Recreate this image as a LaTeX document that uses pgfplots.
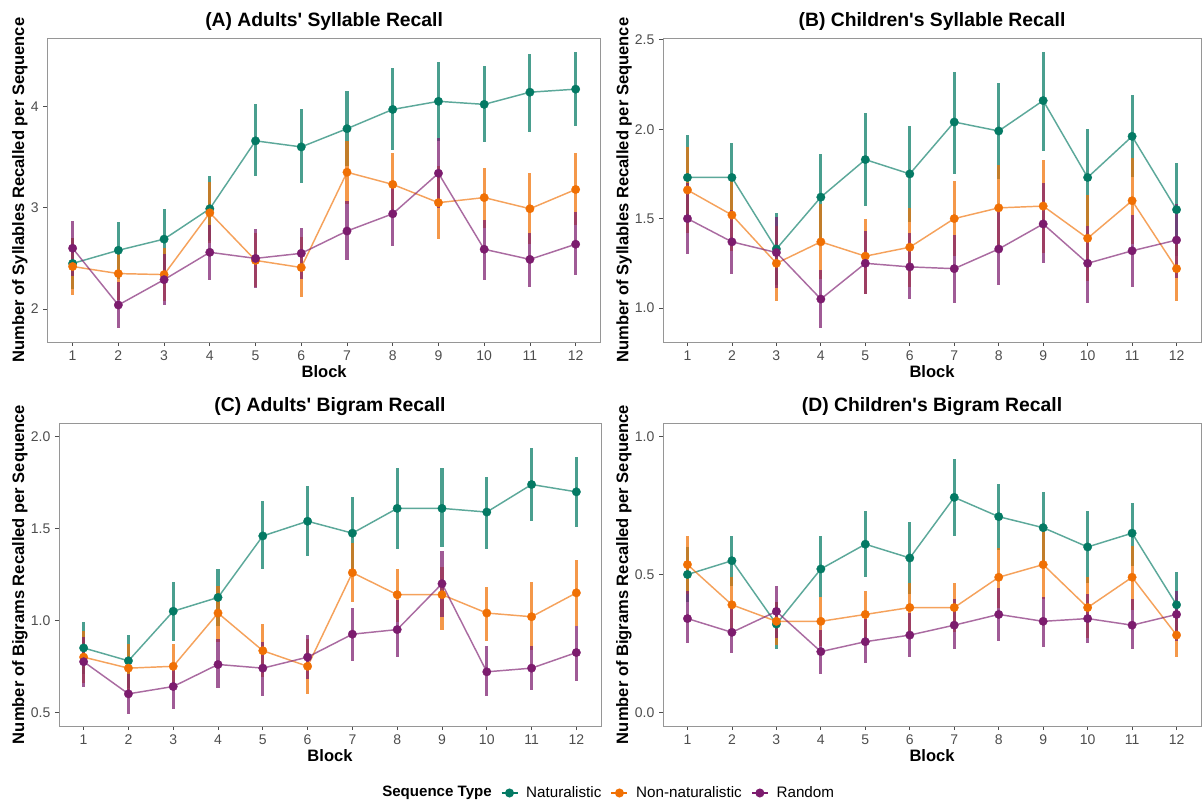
\documentclass[border=0pt]{standalone}
\usepackage{fontspec}
\setmainfont{Liberation Sans}
\usepackage{pgfplots}
\usepackage{pgfplotstable}
\pgfplotsset{compat=1.18}

\definecolor{natc}{RGB}{4,122,100}
\definecolor{nonc}{RGB}{240,112,4}
\definecolor{ranc}{RGB}{124,28,110}
\definecolor{framec}{RGB}{150,150,150}
\definecolor{tickc}{RGB}{77,77,77}

% x = block, y = mean, lo/hi = ends of the error bar
\pgfplotstableread{
x y lo hi
1 2.45 2.20 2.70
2 2.58 2.30 2.86
3 2.69 2.39 2.99
4 2.99 2.67 3.31
5 3.66 3.31 4.02
6 3.60 3.24 3.97
7 3.78 3.41 4.15
8 3.97 3.57 4.38
9 4.05 3.66 4.44
10 4.02 3.65 4.40
11 4.14 3.75 4.52
12 4.17 3.81 4.54
}\AN
\pgfplotstableread{
x y lo hi
1 2.42 2.14 2.70
2 2.35 2.09 2.61
3 2.34 2.08 2.60
4 2.95 2.65 3.25
5 2.48 2.22 2.75
6 2.41 2.12 2.71
7 3.35 3.04 3.66
8 3.23 2.92 3.54
9 3.05 2.69 3.41
10 3.10 2.80 3.39
11 2.99 2.64 3.34
12 3.18 2.83 3.54
}\AO
\pgfplotstableread{
x y lo hi
1 2.60 2.33 2.87
2 2.04 1.81 2.27
3 2.29 2.04 2.54
4 2.56 2.29 2.83
5 2.50 2.21 2.79
6 2.55 2.30 2.80
7 2.77 2.48 3.07
8 2.94 2.62 3.26
9 3.34 3.00 3.69
10 2.59 2.29 2.88
11 2.49 2.22 2.75
12 2.64 2.34 2.96
}\AR
\pgfplotstableread{
x y lo hi
1 1.73 1.49 1.97
2 1.73 1.54 1.92
3 1.33 1.13 1.53
4 1.62 1.38 1.86
5 1.83 1.57 2.09
6 1.75 1.48 2.02
7 2.04 1.75 2.32
8 1.99 1.72 2.26
9 2.16 1.88 2.43
10 1.73 1.46 2.00
11 1.96 1.73 2.19
12 1.55 1.29 1.81
}\BN
\pgfplotstableread{
x y lo hi
1 1.66 1.42 1.90
2 1.52 1.32 1.72
3 1.25 1.04 1.46
4 1.37 1.16 1.58
5 1.29 1.08 1.50
6 1.34 1.12 1.56
7 1.50 1.29 1.71
8 1.56 1.32 1.80
9 1.57 1.31 1.83
10 1.39 1.15 1.63
11 1.60 1.36 1.84
12 1.22 1.04 1.40
}\BO
\pgfplotstableread{
x y lo hi
1 1.50 1.30 1.70
2 1.37 1.19 1.55
3 1.31 1.11 1.51
4 1.05 0.89 1.21
5 1.25 1.08 1.43
6 1.23 1.05 1.42
7 1.22 1.03 1.41
8 1.33 1.13 1.54
9 1.47 1.25 1.70
10 1.25 1.03 1.46
11 1.32 1.12 1.52
12 1.38 1.17 1.58
}\BR
\pgfplotstableread{
x y lo hi
1 0.85 0.71 0.99
2 0.78 0.63 0.92
3 1.05 0.89 1.21
4 1.125 0.97 1.28
5 1.46 1.28 1.65
6 1.54 1.35 1.73
7 1.475 1.28 1.67
8 1.61 1.39 1.83
9 1.61 1.40 1.83
10 1.59 1.39 1.78
11 1.74 1.54 1.94
12 1.70 1.51 1.89
}\CN
\pgfplotstableread{
x y lo hi
1 0.80 0.66 0.94
2 0.74 0.60 0.87
3 0.75 0.62 0.87
4 1.04 0.88 1.19
5 0.835 0.69 0.98
6 0.75 0.60 0.90
7 1.26 1.10 1.42
8 1.14 0.99 1.28
9 1.14 0.95 1.29
10 1.04 0.89 1.18
11 1.02 0.84 1.21
12 1.15 0.97 1.33
}\CO
\pgfplotstableread{
x y lo hi
1 0.775 0.64 0.91
2 0.60 0.49 0.71
3 0.64 0.52 0.75
4 0.76 0.63 0.90
5 0.74 0.59 0.88
6 0.80 0.68 0.92
7 0.925 0.78 1.065
8 0.95 0.80 1.11
9 1.20 1.02 1.38
10 0.72 0.59 0.86
11 0.74 0.62 0.86
12 0.825 0.67 0.97
}\CR
\pgfplotstableread{
x y lo hi
1 0.50 0.40 0.60
2 0.55 0.46 0.64
3 0.32 0.23 0.40
4 0.52 0.42 0.64
5 0.61 0.49 0.73
6 0.56 0.43 0.69
7 0.78 0.64 0.92
8 0.71 0.59 0.83
9 0.67 0.54 0.80
10 0.60 0.47 0.73
11 0.65 0.53 0.76
12 0.39 0.27 0.51
}\DN
\pgfplotstableread{
x y lo hi
1 0.536 0.43 0.64
2 0.39 0.29 0.49
3 0.33 0.245 0.40
4 0.33 0.24 0.42
5 0.355 0.27 0.44
6 0.38 0.29 0.47
7 0.38 0.29 0.47
8 0.49 0.38 0.595
9 0.536 0.41 0.66
10 0.38 0.27 0.49
11 0.49 0.37 0.605
12 0.28 0.20 0.36
}\DO
\pgfplotstableread{
x y lo hi
1 0.34 0.25 0.44
2 0.29 0.215 0.38
3 0.366 0.27 0.46
4 0.22 0.14 0.30
5 0.256 0.18 0.34
6 0.28 0.20 0.36
7 0.316 0.23 0.41
8 0.355 0.26 0.45
9 0.33 0.235 0.42
10 0.34 0.25 0.43
11 0.316 0.23 0.41
12 0.355 0.26 0.44
}\DR

\pgfplotsset{
  panel/.style={
    scale only axis,
    xmin=0.45, xmax=12.55, xtick={1,...,12},
    axis line style={framec, line width=0.7pt},
    tick style={tickc, line width=0.6pt},
    tick align=outside, major tick length=3pt, tick pos=left,
    /pgf/number format/assume math mode=true,
    ticklabel style={font=\fontsize{10.5}{12}\selectfont, text=tickc},
    title style={at={(0.5,1)}, anchor=south, yshift=-4pt, font=\bfseries\fontsize{14.5}{17}\selectfont},
    xlabel={Block},
    xlabel style={at={(axis description cs:0.5,0)}, anchor=center, yshift=-22.5pt, font=\bfseries\fontsize{12.4}{14}\selectfont},
    ylabel style={anchor=center, font=\bfseries\fontsize{12.4}{14}\selectfont},
  },
  onedec/.style={yticklabel style={/pgf/number format/.cd, fixed, fixed zerofill, precision=1}},
}

\newcommand{\ebars}[2]{%
  \addplot[forget plot, #2, only marks, mark=none,
    error bars/.cd, y dir=both, y explicit, error mark=none,
    error bar style={line width=2.3pt, #2, opacity=0.72}]
    table[x=x, y=y, y error plus expr=\thisrow{hi}-\thisrow{y}, y error minus expr=\thisrow{y}-\thisrow{lo}] {#1};}
\newcommand{\lns}[2]{%
  \addplot[forget plot, #2, line width=1.1pt, opacity=0.65, mark=none] table[x=x, y=y] {#1};}
\newcommand{\pts}[2]{%
  \addplot[forget plot, #2, only marks, mark=*, mark size=3.2pt, mark options={fill=#2, draw=#2, line width=0.2pt}] table[x=x, y=y] {#1};}
\newcommand{\panelplots}[3]{%
  \ebars{#1}{natc}\ebars{#2}{nonc}\ebars{#3}{ranc}%
  \lns{#1}{natc}\lns{#2}{nonc}\lns{#3}{ranc}%
  \pts{#1}{natc}\pts{#2}{nonc}\pts{#3}{ranc}}

\begin{document}
\begin{tikzpicture}
\path[use as bounding box] (0,0) rectangle (901.5pt,603.75pt);

\begin{axis}[panel, at={(35.6pt,347.25pt)}, anchor=south west,
  width=415pt, height=228pt, ymin=1.675, ymax=4.675, ytick={2,3,4},
  title={(A) Adults\textquotesingle{} Syllable Recall},
  ylabel={Number of Syllables Recalled per Sequence},
  ylabel style={at={(axis description cs:-0.05,0.5)}}]
  \panelplots{\AN}{\AO}{\AR}
\end{axis}

\begin{axis}[panel, onedec, at={(497.25pt,347.25pt)}, anchor=south west,
  width=403.5pt, height=228pt, ymin=0.81, ymax=2.51, ytick={1,1.5,2,2.5},
  title={(B) Children\textquotesingle{}s Syllable Recall},
  ylabel={Number of Syllables Recalled per Sequence},
  ylabel style={at={(axis description cs:-0.0725,0.5)}}]
  \panelplots{\BN}{\BO}{\BR}
\end{axis}

\begin{axis}[panel, onedec, at={(44.25pt,59.25pt)}, anchor=south west,
  width=406.5pt, height=227.25pt, ymin=0.425, ymax=2.075, ytick={0.5,1,1.5,2},
  title={(C) Adults\textquotesingle{} Bigram Recall},
  ylabel={Number of Bigrams Recalled per Sequence},
  ylabel style={at={(axis description cs:-0.072,0.5)}},
  legend style={at={(axis description cs:1.125,-0.2211)}, anchor=center,
    draw=none, fill=none, legend columns=3,
    font=\fontsize{11.4}{13}\selectfont,
    /tikz/every odd column/.append style={column sep=4pt},
    /tikz/every even column/.append style={column sep=5pt}},
  legend image code/.code={\draw[mark repeat=2, mark phase=2, #1] plot coordinates {(0pt,0pt) (6pt,0pt) (12pt,0pt)};}]
  \panelplots{\CN}{\CO}{\CR}
  \addlegendimage{natc, line width=1.1pt, mark=*, mark size=2.8pt}
  \addlegendentry{Naturalistic}
  \addlegendimage{nonc, line width=1.1pt, mark=*, mark size=2.8pt}
  \addlegendentry{Non-naturalistic}
  \addlegendimage{ranc, line width=1.1pt, mark=*, mark size=2.8pt}
  \addlegendentry{Random}
\end{axis}

\begin{axis}[panel, onedec, at={(497.25pt,59.25pt)}, anchor=south west,
  width=403.5pt, height=227.25pt, ymin=-0.05, ymax=1.05, ytick={0,0.5,1},
  title={(D) Children\textquotesingle{}s Bigram Recall},
  ylabel={Number of Bigrams Recalled per Sequence},
  ylabel style={at={(axis description cs:-0.0725,0.5)}}]
  \panelplots{\DN}{\DO}{\DR}
\end{axis}

\node[font=\bfseries\fontsize{11.3}{13}\selectfont] at (327.75pt,9pt) {Sequence Type};
\end{tikzpicture}
\end{document}
